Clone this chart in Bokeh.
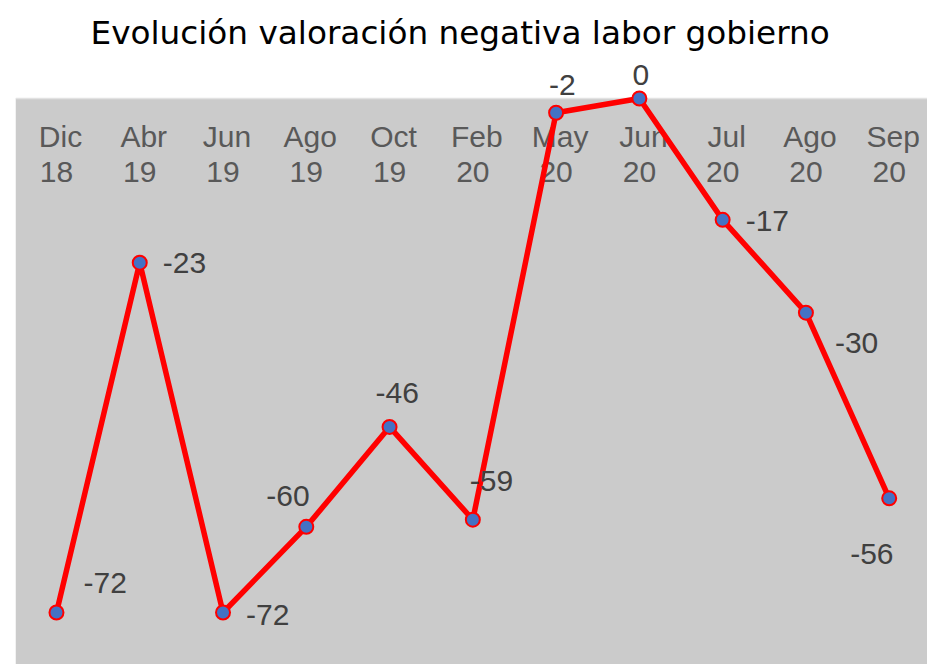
from bokeh.plotting import figure
from bokeh.models import ColumnDataSource, Range1d, BoxAnnotation, Span
from bokeh.core.properties import value
from bokeh.embed import file_html
from bokeh.resources import INLINE

# ---- data ----
months = ["Dic", "Abr", "Jun", "Ago", "Oct", "Feb", "May", "Jun", "Jul", "Ago", "Sep"]
years = ["18", "19", "19", "19", "19", "20", "20", "20", "20", "20", "20"]
valoracion = [-72, -23, -72, -60, -46, -59, -2, 0, -17, -30, -56]

# label placement (pixel offsets of each data label from its point)
label_dx = [27, 23, 23, -40, -14, -3, -7, -7, 23, 29, -39]
label_dy = [-30, 0, 2, -31, -34, -39, -28, -23, 1, 30, 56]

FONT = "Liberation Sans"
idx = list(range(len(months)))

src = ColumnDataSource(dict(
    x=idx, y=valoracion, label=[str(v) for v in valoracion],
    dx=label_dx, dy=label_dy,
))
cat_src = ColumnDataSource(dict(
    x=idx, top=[0] * len(idx), month=months, year=years,
))

p = figure(width=927, height=664, output_backend="svg", toolbar_location=None,
           x_range=Range1d(-0.492, 10.46), y_range=Range1d(-79.28, 5.04),
           min_border_left=15, min_border_right=0, min_border_top=62, min_border_bottom=0,
           background_fill_color="white", border_fill_color="white",
           outline_line_color=None)
p.axis.visible = False
p.xgrid.visible = False
p.ygrid.visible = False

p.title.text = "Evolución valoración negativa labor gobierno"
p.title.text_font = "DejaVu Sans"
p.title.text_font_size = "32.7px"
p.title.text_font_style = "normal"
p.title.text_color = "black"
p.title.align = "left"
p.title.offset = 75
p.title.vertical_align = "bottom"
p.title.standoff = 21

p.add_layout(BoxAnnotation(top=0, fill_color="#cbcbcb", fill_alpha=1.0,
                           line_color=None, level="underlay"))
p.add_layout(Span(location=0, dimension="width", line_color="#e2e2e2",
                  line_width=1.5, level="underlay"))

# category labels (inside plot area, top)
p.text(x="x", y="top", text="month", source=cat_src, x_offset=4, y_offset=38,
       text_align="center", text_baseline="middle",
       text_font=value(FONT), text_font_size="30px", text_color="#595959")
p.text(x="x", y="top", text="year", source=cat_src, y_offset=74,
       text_align="center", text_baseline="middle",
       text_font=value(FONT), text_font_size="30px", text_color="#595959")

p.line(x="x", y="y", source=src, line_color="#ff0000", line_width=5.5)
p.scatter(x="x", y="y", source=src, size=14, fill_color="#4472c4",
          line_color="#ff0000", line_width=2)

p.text(x="x", y="y", text="label", source=src, x_offset="dx", y_offset="dy",
       text_align="left", text_baseline="middle",
       text_font=value(FONT), text_font_size="30px", text_color="#404040")

open("out.html", "w").write(file_html(p, INLINE))
